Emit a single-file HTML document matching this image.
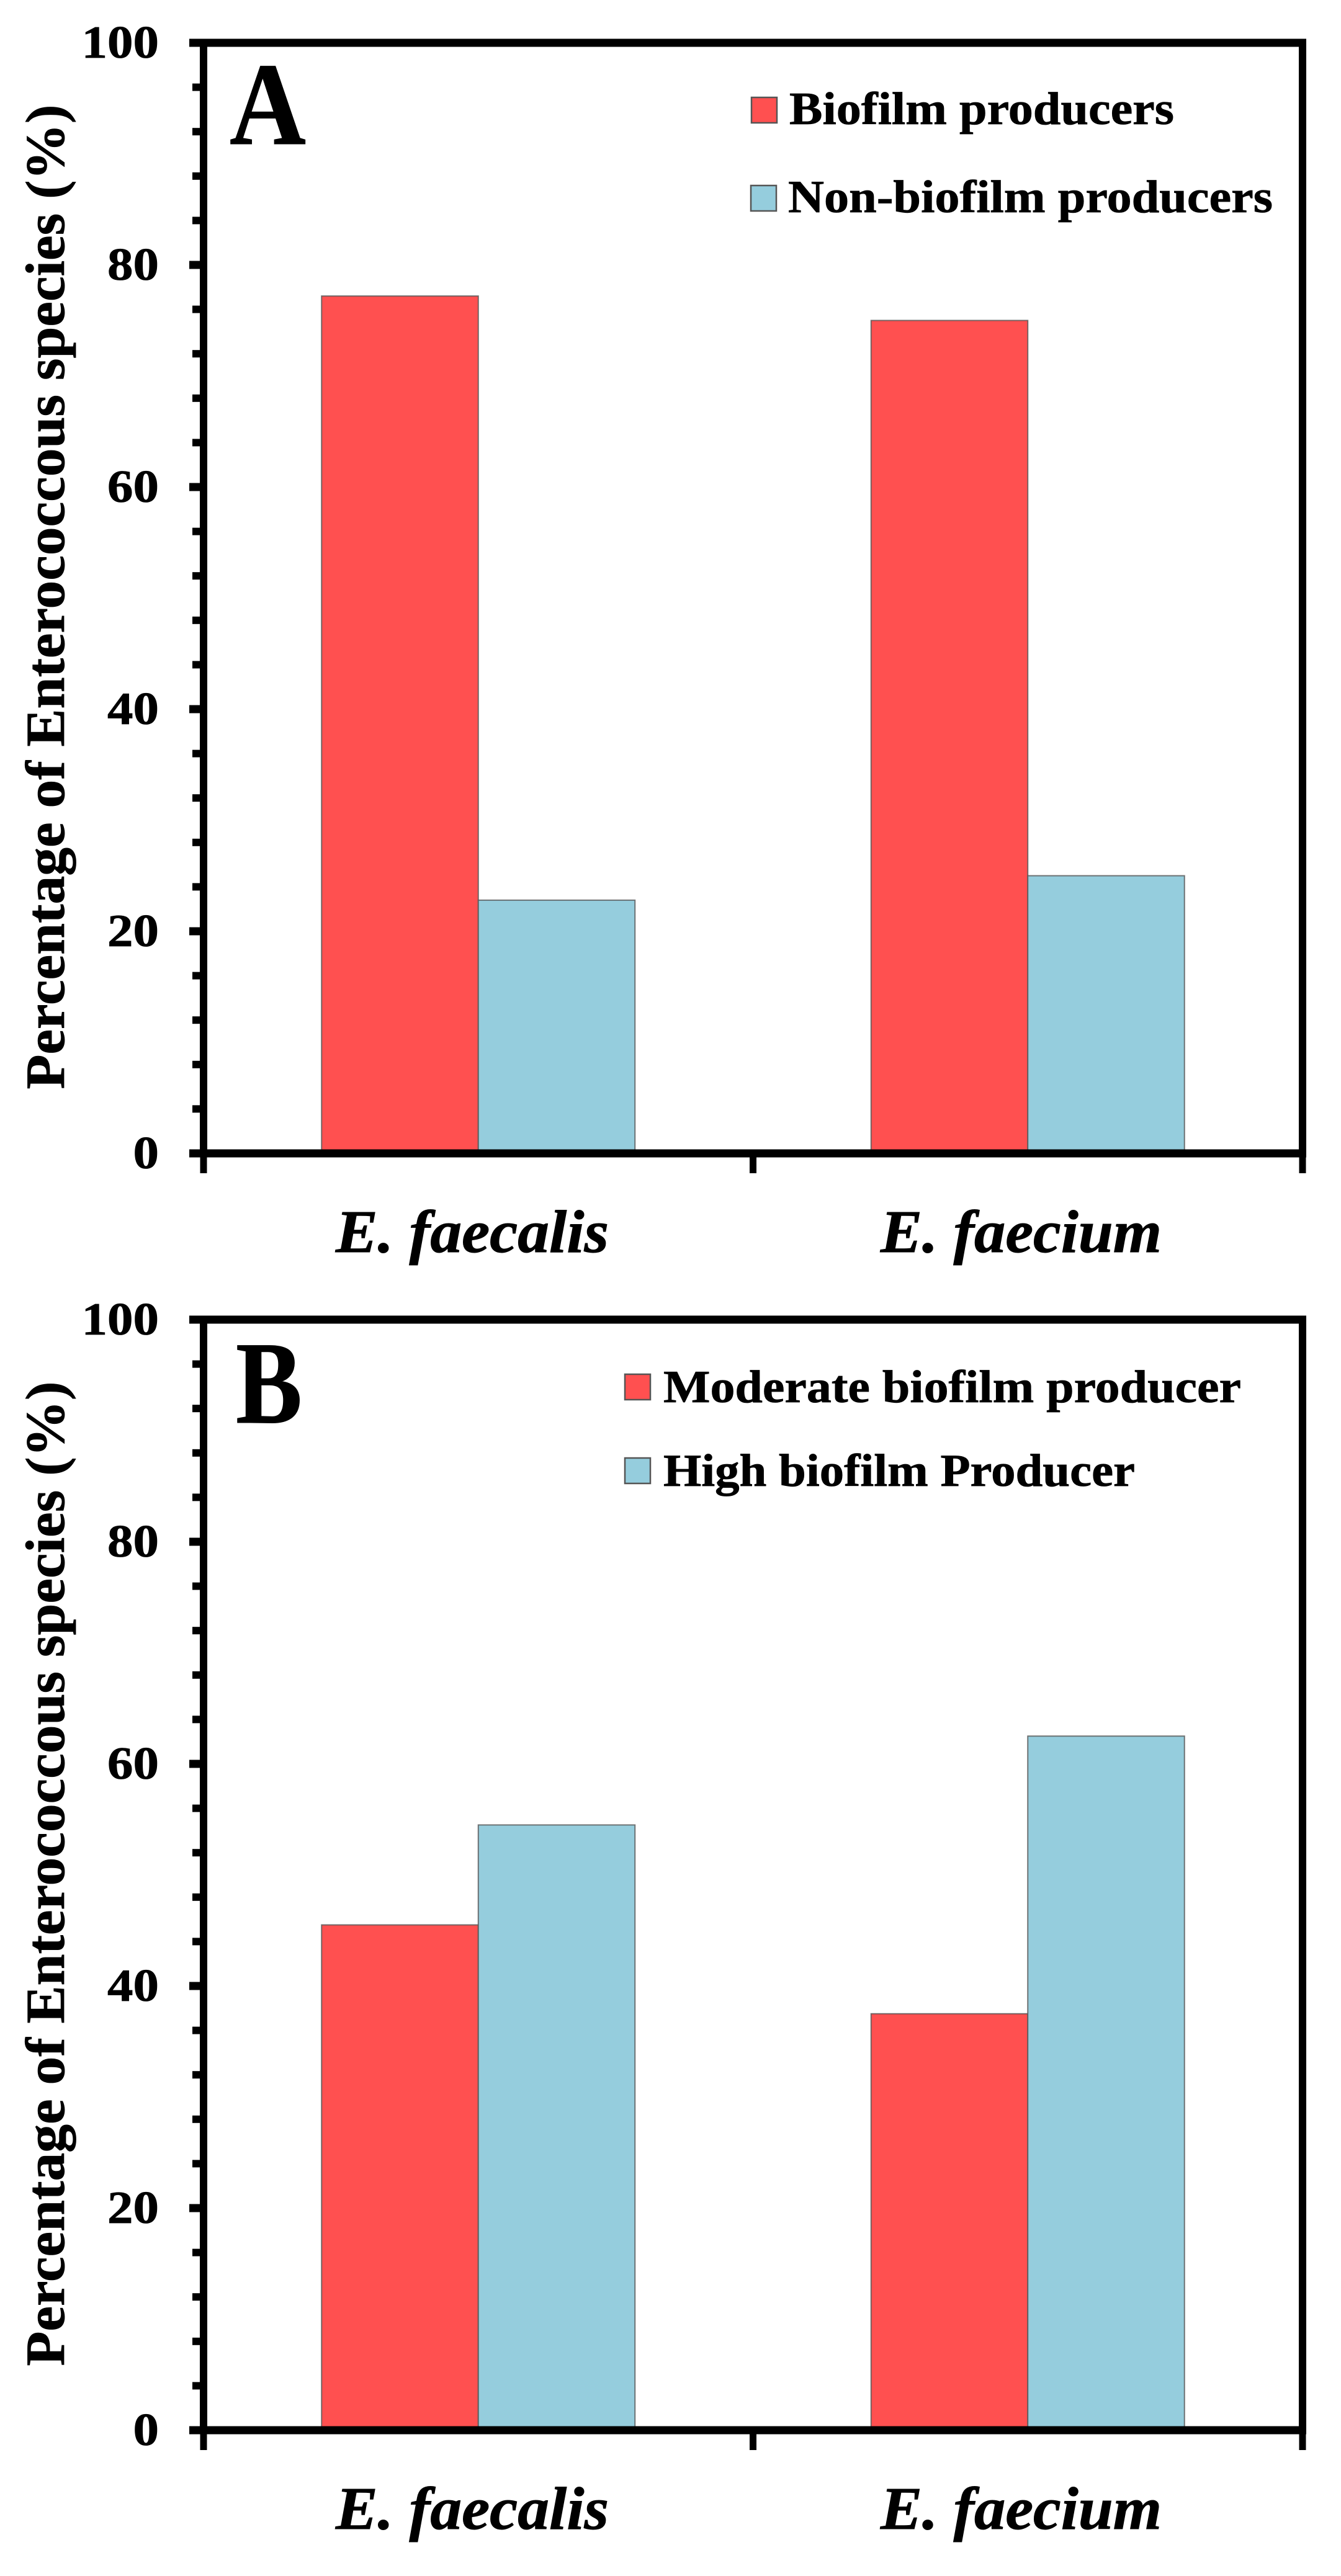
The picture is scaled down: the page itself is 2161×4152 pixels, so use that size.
<!DOCTYPE html>
<html lang="en">
<head>
<meta charset="utf-8">
<title>Biofilm production in Enterococcus species</title>
<style>
  html, body { margin: 0; padding: 0; background: #fff; }
  svg { display: block; }
  text { font-family: "Liberation Serif", "DejaVu Serif", serif; font-weight: bold; fill: #000; stroke: #000; }
</style>
</head>
<body>
<svg id="figure" xmlns="http://www.w3.org/2000/svg" width="2161" height="4152" viewBox="0 0 2161 4152">
  <rect x="0" y="0" width="2161" height="4152" fill="#ffffff"/>
</svg>
<script>
// ---- chart data ----
const categories = ['E. faecalis', 'E. faecium'];
const panelALegend = ['Biofilm producers', 'Non-biofilm producers'];
const panelABiofilm = [77.2, 75];
const panelANonBiofilm = [22.8, 25];
const panelBLegend = ['Moderate biofilm producer', 'High biofilm Producer'];
const panelBModerate = [45.5, 37.5];
const panelBHigh = [54.5, 62.5];
const yMajorTicks = [0, 20, 40, 60, 80, 100];
const yMinorTicks = [4, 8, 12, 16, 24, 28, 32, 36, 44, 48, 52, 56, 64, 68, 72, 76, 84, 88, 92, 96];
const yTitle = 'Percentage of Enterococcous species (%)';

// ---- layout ----
const svg = document.getElementById('figure');
const NS = 'http://www.w3.org/2000/svg';
const plotLeft = 328;
const plotRight = 2099;
const plotHeight = 1790;
const barWidth = 252.5;
const yMax = 100;
const RED = '#ff5050';
const BLUE = '#95cddd';

function xBand(i) {
  const band = (plotRight - plotLeft) / categories.length;
  return plotLeft + band * (i + 0.5);
}
function yScale(v, bottom) {
  return bottom - (v / yMax) * plotHeight;
}
function shape(tag, attrs, parent) {
  const el = document.createElementNS(NS, tag);
  for (const k in attrs) el.setAttribute(k, attrs[k]);
  parent.appendChild(el);
  return el;
}
function label(str, attrs, parent) {
  const el = shape('text', attrs, parent);
  el.textContent = str;
  return el;
}

function drawPanel(p) {
  const g = shape('g', {}, svg);
  
  

  // bars
  p.series.forEach(function (values, s) {
    values.forEach(function (v, i) {
      const x = xBand(i) + (s - 1) * barWidth;
      const y = yScale(v, p.bottom);
      const bar = shape('rect', {
        x: x, y: y, width: barWidth, height: p.bottom - y,
        fill: s === 0 ? RED : BLUE, stroke: '#555', 'stroke-opacity': 0.8, 'stroke-width': 2
      }, g);
      
      
    });
  });

  // plot frame
  const frame = shape('path', {
    d: 'M' + plotLeft + ' ' + yScale(yMax, p.bottom) + 'H' + plotRight + 'V' + p.bottom + 'H' + plotLeft + 'Z',
    fill: 'none', stroke: 'none'
  }, g);
  
  

  const yTop = yScale(yMax, p.bottom);
  const axisLeft = shape('rect', { x: plotLeft - 6, y: yTop, width: 12, height: plotHeight, fill: '#000' }, g);
  
  
  const axisRight = shape('rect', { x: plotRight - 6, y: yTop - 6, width: 12, height: plotHeight + 12, fill: '#000' }, g);
  
  
  const axisTop = shape('rect', { x: 305, y: yTop - 6.5, width: plotRight + 6 - 305, height: 13, fill: '#000' }, g);
  
  
  const axisBottom = shape('rect', { x: 305, y: p.bottom - 6.5, width: plotRight + 6 - 305, height: 13, fill: '#000' }, g);
  
  

  // y ticks
  yMinorTicks.forEach(function (v) {
    const t = shape('rect', { x: 310, y: yScale(v, p.bottom) - 6, width: 18, height: 12, fill: '#000' }, g);
    
    
  });
  yMajorTicks.forEach(function (v) {
    const y = yScale(v, p.bottom);
    const t = shape('rect', { x: 305, y: y - 6.5, width: 23, height: 13, fill: '#000' }, g);
    
    
    const str = String(v);
    const w = str.length * 41.5;
    const tl = label(str, {
      x: 256 - w, y: y + 24, 'font-size': 74, 'stroke-width': 0.8,
      textLength: w, lengthAdjust: 'spacingAndGlyphs'
    }, g);
    
    
  });

  // x ticks (category boundaries)
  for (let i = 0; i <= categories.length; i++) {
    const x = plotLeft + (plotRight - plotLeft) / categories.length * i;
    const t = shape('rect', { x: x - 5.5, y: p.bottom, width: 11, height: 32, fill: '#000' }, g);
    
    
  }

  // x category labels
  categories.forEach(function (c, i) {
    const tl = label(c, {
      x: p.catX[i], y: p.bottom + 159, 'font-size': 98, 'font-style': 'italic', 'stroke-width': 1,
      textLength: p.catW[i], lengthAdjust: 'spacingAndGlyphs'
    }, g);
    
    
  });

  // y axis title
  const yMid = p.bottom - 897;
  const title = label(yTitle, {
    x: 0, y: 0, 'font-size': 89, 'stroke-width': 0.8, 'text-anchor': 'middle',
    textLength: 1587, lengthAdjust: 'spacingAndGlyphs',
    transform: 'translate(103 ' + yMid + ') rotate(-90)'
  }, g);
  
  

  // panel letter
  const letter = label(p.letter, {
    x: p.letterX, y: p.letterY, 'font-size': 190, 'stroke-width': 1,
    textLength: p.letterW, lengthAdjust: 'spacingAndGlyphs'
  }, g);
  
  

  // legend
  p.legend.forEach(function (txt, i) {
    const e = p.legendPos[i];
    const sw = shape('rect', {
      x: e.sx, y: e.sy, width: e.sw, height: 41,
      fill: i === 0 ? RED : BLUE, stroke: '#555', 'stroke-width': 2.5
    }, g);
    
    
    const tl = label(txt, {
      x: e.tx, y: e.ty, 'font-size': 74, 'stroke-width': 0.8,
      textLength: e.tw, lengthAdjust: 'spacingAndGlyphs'
    }, g);
    
    
  });
}

drawPanel({
  name: 'panel-a',
  letter: 'A',
  bottom: 1859,
  series: [panelABiofilm, panelANonBiofilm],
  legend: panelALegend,
  catX: [541, 1419],
  catW: [440, 453],
  letterX: 370,
  letterY: 232,
  letterW: 123,
  legendPos: [
    { sx: 1211, sy: 157, sw: 41, tx: 1272, ty: 200, tw: 620 },
    { sx: 1210, sy: 299, sw: 41, tx: 1270, ty: 342, tw: 781 }
  ]
});

drawPanel({
  name: 'panel-b',
  letter: 'B',
  bottom: 3917,
  series: [panelBModerate, panelBHigh],
  legend: panelBLegend,
  catX: [541, 1419],
  catW: [440, 453],
  letterX: 380,
  letterY: 2293,
  letterW: 107,
  legendPos: [
    { sx: 1007, sy: 2215, sw: 41, tx: 1069, ty: 2260, tw: 931 },
    { sx: 1007, sy: 2350, sw: 41, tx: 1069, ty: 2395, tw: 760 }
  ]
});
</script>
</body>
</html>
